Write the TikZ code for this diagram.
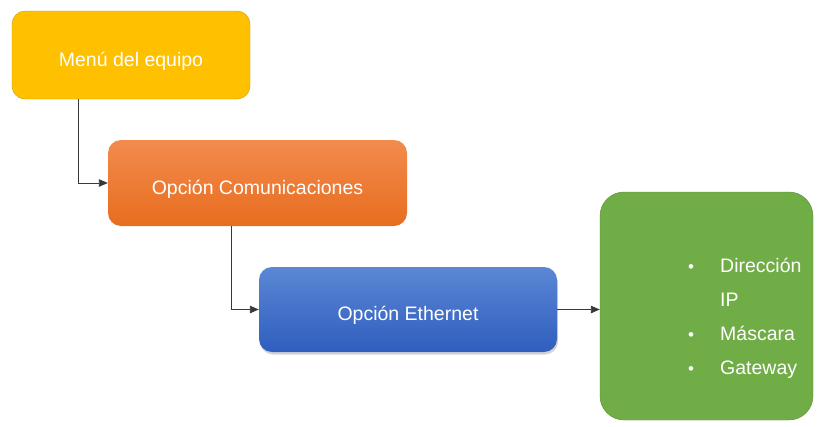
\documentclass[tikz,border=0pt]{standalone}
\usepackage{fontspec}
\setmainfont{Liberation Sans}
\usetikzlibrary{arrows.meta, positioning, shadows}

\definecolor{menuyellow}{HTML}{FFC000}
\definecolor{commstop}{HTML}{F28B4E}
\definecolor{commsbottom}{HTML}{E86D1E}
\definecolor{ethertop}{HTML}{5B87D4}
\definecolor{etherbottom}{HTML}{2F5EBF}
\definecolor{paramgreen}{HTML}{70AD47}
\definecolor{linegray}{HTML}{383838}

\newcommand{\listdot}{\makebox[34pt][l]{\hspace{2pt}\fontsize{17}{17}\selectfont•}}

\begin{document}
\begin{tikzpicture}[
  x=1pt, y=-1pt,
  box/.style={rectangle, rounded corners=13pt, inner sep=0pt, align=center, text=white,
    text height=22pt, text depth=0pt, font=\fontsize{19.5}{23}\selectfont},
  arrow/.style={-{Triangle[length=9pt,width=7.5pt]}, line width=0.9pt, draw=linegray}
]
\useasboundingbox (0,0) rectangle (817,426);

% Boxes, top left to bottom right
\node[box, fill=menuyellow, draw=menuyellow!80!black, minimum width=238pt, minimum height=88pt] (menu) at (131,55) {Menú del equipo};
\node[box, top color=commstop, bottom color=commsbottom, minimum width=299pt, minimum height=86pt] (comms) at (257.5,183) {Opción Comunicaciones};
\node[box, top color=ethertop, bottom color=etherbottom, minimum width=298pt, minimum height=85pt,
  drop shadow={opacity=0.35, shadow xshift=1pt, shadow yshift=-2.5pt}] (ether) at (408,309.5) {Opción Ethernet};
\node[box, rounded corners=24pt, fill=paramgreen, draw=paramgreen!80!black, minimum width=213pt, minimum height=228pt] (params) at (706.5,306) {};

% Parameter list inside the green box
\node[inner sep=0pt, align=left, text=white, anchor=west, font=\fontsize{19.5}{34}\selectfont] (list) at (686,318)
  {\listdot Dirección\\
   \makebox[34pt]{}IP\\
   \listdot Máscara\\
   \listdot Gateway};

% Connectors
\draw[arrow] ([xshift=-53pt]menu.south) |- (comms.west);
\draw[arrow] ([xshift=-26.5pt]comms.south) |- (ether.west);
\draw[arrow] (ether.east) -- (ether.east -| params.west);

\end{tikzpicture}
\end{document}
